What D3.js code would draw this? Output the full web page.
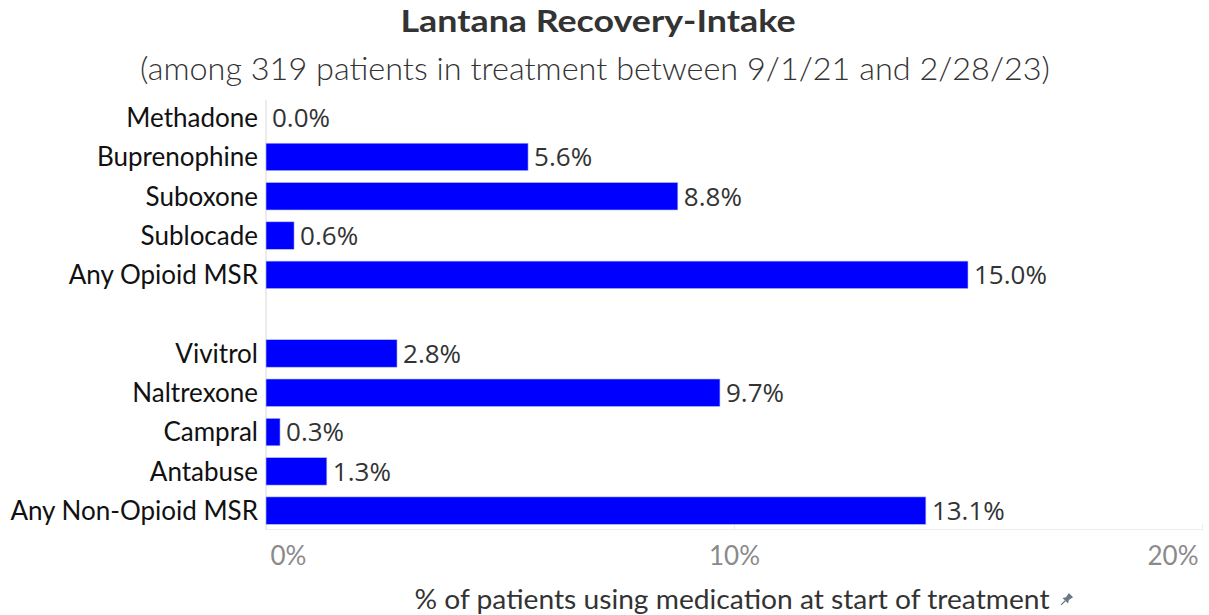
<!DOCTYPE html>
<html>
<head>
<meta charset="utf-8">
<script src="https://cdn.jsdelivr.net/npm/d3@7"></script>
<style>
  html, body { margin: 0; padding: 0; background: #fff; }
  svg { display: block; }
</style>
</head>
<body>
<svg id="chart" width="1209" height="615"></svg>
<script>
// ---- data ----
const categories = ["Methadone", "Buprenophine", "Suboxone", "Sublocade", "Any Opioid MSR",
                    "", "Vivitrol", "Naltrexone", "Campral", "Antabuse", "Any Non-Opioid MSR"];
const values = [0.0, 5.6, 8.8, 0.6, 15.0, null, 2.8, 9.7, 0.3, 1.3, 14.1];
const valueLabels = ["0.0%", "5.6%", "8.8%", "0.6%", "15.0%", "", "2.8%", "9.7%", "0.3%", "1.3%", "13.1%"];
const xTicks = [0, 10, 20];
const titleText = "Lantana Recovery-Intake";
const subtitleText = "(among 319 patients in treatment between 9/1/21 and 2/28/23)";
const axisTitle = "% of patients using medication at start of treatment";

const rows = categories.map((c, i) => ({ key: c === "" ? "__gap__" : c, label: c, v: values[i], t: valueLabels[i] }));

const svg = d3.select("#chart");
const font = "Lato, 'Open Sans', sans-serif";
const valFont = "'Open Sans', Lato, sans-serif";

const x = d3.scaleLinear().domain([0, 20]).range([266, 1202]);
const y = d3.scaleBand().domain(rows.map(d => d.key)).range([98, 530.3]).paddingInner(0.3).paddingOuter(0.15);

// title
svg.append("text").attr("x", 598).attr("y", 32).attr("text-anchor", "middle")
  .attr("font-family", font).attr("font-weight", 700).attr("font-size", 31).attr("fill", "#333")
  .attr("textLength", 395).attr("lengthAdjust", "spacingAndGlyphs")
  .text(titleText);
svg.append("text").attr("x", 595).attr("y", 80).attr("text-anchor", "middle")
  .attr("font-family", font).attr("font-weight", 300).attr("font-size", 31).attr("fill", "#333")
  .attr("textLength", 910).attr("lengthAdjust", "spacingAndGlyphs")
  .text(subtitleText);

// grid / axis lines
svg.append("line").attr("x1", x(0)).attr("x2", x(0)).attr("y1", 100).attr("y2", 530)
  .attr("stroke", "#d9d9d9").attr("stroke-width", 1);
svg.append("line").attr("x1", x(0)).attr("x2", x(20)).attr("y1", 529.5).attr("y2", 529.5)
  .attr("stroke", "#ececec").attr("stroke-width", 1);

const xAxis = d3.axisBottom(x).tickValues(xTicks).tickSize(0).tickFormat(d => d + "%");
const gx = svg.append("g").attr("transform", "translate(0,530)").call(xAxis);
gx.select(".domain").remove();
gx.selectAll(".tick line").attr("y1", -6).attr("y2", 0).attr("stroke", "#ececec");
gx.selectAll(".tick text")
  .attr("font-family", font).attr("font-size", 26).attr("fill", "#8a8a8a").attr("y", 35)
  .attr("dy", 0)
  .attr("text-anchor", (d, i) => i === 0 ? "start" : (i === xTicks.length - 1 ? "end" : "middle"))
  .attr("dx", (d, i) => i === 0 ? 4 : (i === xTicks.length - 1 ? -4 : 0));

// bars
const data = rows.filter(d => d.v !== null);
svg.append("g").selectAll("rect").data(data.filter(d => d.v > 0)).join("rect")
  .attr("x", x(0)).attr("y", d => y(d.key))
  .attr("width", d => x(d.v) - x(0)).attr("height", y.bandwidth())
  .attr("fill", "#0000ff").attr("stroke", "#b8c4f0").attr("stroke-width", 0.6);

// category labels
svg.append("g").selectAll("text").data(data).join("text")
  .attr("x", 258).attr("y", d => y(d.key) + y.bandwidth() / 2).attr("dy", "0.36em")
  .attr("text-anchor", "end").attr("font-family", font).attr("font-size", 26).attr("fill", "#111")
  .text(d => d.label);

// value labels
svg.append("g").selectAll("text").data(data).join("text")
  .attr("x", d => x(d.v) + 6).attr("y", d => y(d.key) + y.bandwidth() / 2).attr("dy", "0.36em")
  .attr("font-family", valFont).attr("font-size", 26).attr("fill", "#333")
  .text(d => d.t);

// axis title
svg.append("text").attr("x", 732).attr("y", 609).attr("text-anchor", "middle")
  .attr("font-family", font).attr("font-size", 27).attr("fill", "#333")
  .attr("textLength", 635).attr("lengthAdjust", "spacingAndGlyphs")
  .text(axisTitle);
// pin icon
const pin = svg.append("g").attr("transform", "translate(1066,600) rotate(45)");
pin.append("path").attr("d", "M-3,-7 L3,-7 L2,-2 L4,1 L-4,1 L-2,-2 Z").attr("fill", "#6b7785");
pin.append("line").attr("x1", 0).attr("x2", 0).attr("y1", 1).attr("y2", 7).attr("stroke", "#6b7785").attr("stroke-width", 1.2);
</script>
</body>
</html>
